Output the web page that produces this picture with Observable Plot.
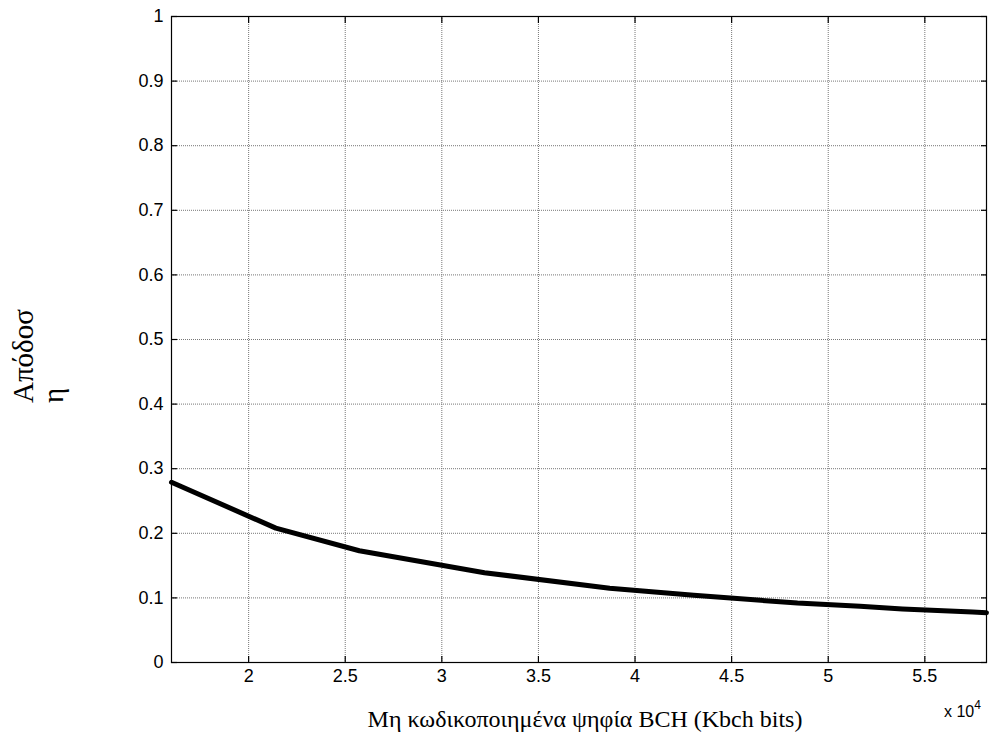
<!DOCTYPE html>
<html><head><meta charset="utf-8">
<script src="https://cdn.jsdelivr.net/npm/d3@7"></script>
<script src="https://cdn.jsdelivr.net/npm/@observablehq/plot@0.6"></script>
<style>body{margin:0;background:#fff}</style>
</head><body><div id="chart"></div>
<script>
const kbch = [16008, 21408, 25728, 32208, 38688, 43040, 48408, 51648, 53840, 57472, 58192];
const eta  = [0.279, 0.208, 0.173, 0.139, 0.115, 0.104, 0.092, 0.087, 0.083, 0.078, 0.077];
const xTicks = [20000, 25000, 30000, 35000, 40000, 45000, 50000, 55000];
const yTicks = [0, 0.1, 0.2, 0.3, 0.4, 0.5, 0.6, 0.7, 0.8, 0.9, 1];
const xLabel = "Μη κωδικοποιημένα ψηφία BCH (Kbch bits)";
const yLabel1 = "Απόδοσ", yLabel2 = "η";

const data = kbch.map((k, i) => ({k, e: eta[i]}));
const fmtX = d => String(+(d / 1e4).toFixed(1));
const fmtY = d => String(+d.toFixed(1));

const plot = Plot.plot({
  width: 992, height: 736,
  marginLeft: 171, marginRight: 6, marginTop: 16, marginBottom: 74,
  style: {fontFamily: "'Liberation Sans', Arial, sans-serif", fontSize: "18px", color: "#000", background: "#fff"},
  x: {domain: [16008, 58192]},
  y: {domain: [0, 1]},
  marks: [
    Plot.gridX(xTicks, {stroke: "#777", strokeOpacity: 1, strokeDasharray: "1,1", strokeWidth: 1}),
    Plot.gridY(yTicks, {stroke: "#777", strokeOpacity: 1, strokeDasharray: "1,1", strokeWidth: 1}),
    Plot.axisX(xTicks, {anchor: "bottom", tickSize: -6, tickPadding: 13, tickFormat: fmtX, label: null, stroke: "#000", strokeWidth: 1.2}),
    Plot.axisX(xTicks, {anchor: "top", tickSize: -6, tickFormat: () => "", label: null, stroke: "#000", strokeWidth: 1.2}),
    Plot.axisY(yTicks, {anchor: "left", tickSize: -6, tickPadding: 14, tickFormat: fmtY, label: null, stroke: "#000", strokeWidth: 1.2}),
    Plot.axisY(yTicks, {anchor: "right", tickSize: -6, tickFormat: () => "", label: null, stroke: "#000", strokeWidth: 1.2}),
    Plot.line(data, {x: "k", y: "e", stroke: "#000", strokeWidth: 5, strokeLinejoin: "round"}),
    Plot.frame({stroke: "#000", strokeWidth: 1.2})
  ]
});
document.getElementById("chart").appendChild(plot);

const svg = d3.select(plot);
svg.selectAll("g").filter(function() { return this.getAttribute("font-size"); }).attr("font-size", 18);
svg.selectAll("text").attr("font-size", 18).style("font-size", "18px")
  .style("font-family", "'Liberation Sans', Arial, sans-serif");
const serif = "'Liberation Serif', 'DejaVu Serif', serif";
svg.append("text").attr("x", 585).attr("y", 727).attr("text-anchor", "middle")
  .attr("font-family", serif).attr("font-size", 24).attr("fill", "#000").text(xLabel);
svg.append("text").attr("transform", "translate(33,403) rotate(-90)").attr("text-anchor", "start")
  .attr("font-family", serif).attr("font-size", 29).attr("fill", "#000").text(yLabel1);
svg.append("text").attr("transform", "translate(63,403) rotate(-90)").attr("text-anchor", "start")
  .attr("font-family", serif).attr("font-size", 29).attr("fill", "#000").text(yLabel2);
const ex = svg.append("text").attr("x", 944).attr("y", 717).attr("text-anchor", "start")
  .attr("font-family", "'Liberation Sans', Arial, sans-serif").attr("font-size", 16).attr("fill", "#000");
ex.append("tspan").text("x 10");
ex.append("tspan").attr("dy", -8).attr("font-size", 12).text("4");
</script>
</body></html>
